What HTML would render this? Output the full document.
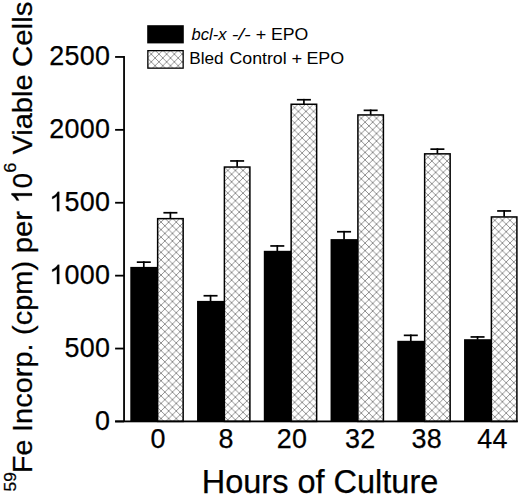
<!DOCTYPE html>
<html><head><meta charset="utf-8"><title>chart</title><style>
html,body{margin:0;padding:0;background:#fff;overflow:hidden;}
svg{display:block;}
text{font-family:"Liberation Sans",sans-serif;fill:#000;stroke:#000;stroke-width:0.25px;}
text.lg{stroke:none;}
</style></head><body>
<svg width="520" height="497" viewBox="0 0 520 497">
<defs>
<pattern id="xh0" patternUnits="userSpaceOnUse" width="7.6" height="7.556" x="157.25" y="218.30"><path d="M-3.8,-3.778 L11.399999999999999,11.334 M-3.8,11.334 L11.399999999999999,-3.778" stroke="#000" stroke-opacity="0.48" stroke-width="0.9" fill="none"/></pattern>
<pattern id="xh1" patternUnits="userSpaceOnUse" width="7.6" height="7.556" x="224.00" y="166.70"><path d="M-3.8,-3.778 L11.399999999999999,11.334 M-3.8,11.334 L11.399999999999999,-3.778" stroke="#000" stroke-opacity="0.48" stroke-width="0.9" fill="none"/></pattern>
<pattern id="xh2" patternUnits="userSpaceOnUse" width="7.6" height="7.556" x="290.75" y="103.90"><path d="M-3.8,-3.778 L11.399999999999999,11.334 M-3.8,11.334 L11.399999999999999,-3.778" stroke="#000" stroke-opacity="0.48" stroke-width="0.9" fill="none"/></pattern>
<pattern id="xh3" patternUnits="userSpaceOnUse" width="7.6" height="7.556" x="357.50" y="114.60"><path d="M-3.8,-3.778 L11.399999999999999,11.334 M-3.8,11.334 L11.399999999999999,-3.778" stroke="#000" stroke-opacity="0.48" stroke-width="0.9" fill="none"/></pattern>
<pattern id="xh4" patternUnits="userSpaceOnUse" width="7.6" height="7.556" x="424.25" y="153.50"><path d="M-3.8,-3.778 L11.399999999999999,11.334 M-3.8,11.334 L11.399999999999999,-3.778" stroke="#000" stroke-opacity="0.48" stroke-width="0.9" fill="none"/></pattern>
<pattern id="xh5" patternUnits="userSpaceOnUse" width="7.6" height="7.556" x="491.00" y="216.60"><path d="M-3.8,-3.778 L11.399999999999999,11.334 M-3.8,11.334 L11.399999999999999,-3.778" stroke="#000" stroke-opacity="0.48" stroke-width="0.9" fill="none"/></pattern>
<pattern id="xhl" patternUnits="userSpaceOnUse" width="7.7" height="7.7" x="147.40" y="50.30"><path d="M-3.85,-3.85 L11.55,11.55 M-3.85,11.55 L11.55,-3.85" stroke="#000" stroke-opacity="0.48" stroke-width="0.9" fill="none"/></pattern>
</defs>
<rect width="520" height="497" fill="#fff"/><rect x="130.30" y="266.90" width="27.40" height="154.50" fill="#000"/>
<rect x="136.80" y="261.30" width="14.00" height="1.70" fill="#000"/><rect x="142.95" y="261.30" width="1.70" height="6.10" fill="#000"/>
<rect x="157.65" y="218.65" width="25.50" height="202.75" fill="url(#xh0)" stroke="#000" stroke-width="1.5"/>
<rect x="163.40" y="211.90" width="14.00" height="1.70" fill="#000"/><rect x="169.55" y="211.90" width="1.70" height="6.50" fill="#000"/>
<rect x="197.05" y="300.90" width="27.40" height="120.50" fill="#000"/>
<rect x="203.55" y="294.90" width="14.00" height="1.70" fill="#000"/><rect x="209.70" y="294.90" width="1.70" height="6.50" fill="#000"/>
<rect x="224.40" y="167.05" width="25.50" height="254.35" fill="url(#xh1)" stroke="#000" stroke-width="1.5"/>
<rect x="230.15" y="160.10" width="14.00" height="1.70" fill="#000"/><rect x="236.30" y="160.10" width="1.70" height="6.70" fill="#000"/>
<rect x="263.80" y="250.80" width="27.40" height="170.60" fill="#000"/>
<rect x="270.30" y="245.10" width="14.00" height="1.70" fill="#000"/><rect x="276.45" y="245.10" width="1.70" height="6.20" fill="#000"/>
<rect x="291.15" y="104.25" width="25.50" height="317.15" fill="url(#xh2)" stroke="#000" stroke-width="1.5"/>
<rect x="296.90" y="98.90" width="14.00" height="1.70" fill="#000"/><rect x="303.05" y="98.90" width="1.70" height="5.10" fill="#000"/>
<rect x="330.55" y="239.10" width="27.40" height="182.30" fill="#000"/>
<rect x="337.05" y="230.90" width="14.00" height="1.70" fill="#000"/><rect x="343.20" y="230.90" width="1.70" height="8.70" fill="#000"/>
<rect x="357.90" y="114.95" width="25.50" height="306.45" fill="url(#xh3)" stroke="#000" stroke-width="1.5"/>
<rect x="363.65" y="109.50" width="14.00" height="1.70" fill="#000"/><rect x="369.80" y="109.50" width="1.70" height="5.20" fill="#000"/>
<rect x="397.30" y="340.80" width="27.40" height="80.60" fill="#000"/>
<rect x="403.80" y="334.50" width="14.00" height="1.70" fill="#000"/><rect x="409.95" y="334.50" width="1.70" height="6.80" fill="#000"/>
<rect x="424.65" y="153.85" width="25.50" height="267.55" fill="url(#xh4)" stroke="#000" stroke-width="1.5"/>
<rect x="430.40" y="148.30" width="14.00" height="1.70" fill="#000"/><rect x="436.55" y="148.30" width="1.70" height="5.30" fill="#000"/>
<rect x="464.05" y="339.20" width="27.40" height="82.20" fill="#000"/>
<rect x="470.55" y="336.10" width="14.00" height="1.70" fill="#000"/><rect x="476.70" y="336.10" width="1.70" height="3.60" fill="#000"/>
<rect x="491.40" y="216.95" width="25.50" height="204.45" fill="url(#xh5)" stroke="#000" stroke-width="1.5"/>
<rect x="497.15" y="210.10" width="14.00" height="1.70" fill="#000"/><rect x="503.30" y="210.10" width="1.70" height="6.60" fill="#000"/>
<rect x="115.1" y="420.50" width="402.70" height="1.8" fill="#000"/>
<rect x="123.15" y="56.05" width="1.8" height="365.35" fill="#000"/>
<rect x="115.1" y="420.55" width="8.95" height="1.8" fill="#000"/>
<rect x="115.1" y="347.65" width="8.95" height="1.8" fill="#000"/>
<rect x="115.1" y="274.75" width="8.95" height="1.8" fill="#000"/>
<rect x="115.1" y="201.85" width="8.95" height="1.8" fill="#000"/>
<rect x="115.1" y="128.95" width="8.95" height="1.8" fill="#000"/>
<rect x="115.1" y="56.05" width="8.95" height="1.8" fill="#000"/>
<text x="95.04" y="429.85" font-size="26.9">0</text>
<text x="64.52" y="356.95" font-size="26.9">5</text><text x="79.78" y="356.95" font-size="26.9">0</text><text x="95.04" y="356.95" font-size="26.9">0</text>
<path transform="translate(49.26,284.05) scale(0.01313,-0.01313)" d="M763,0 L583,0 L583,1147 Q518,1085 412,1023 Q307,961 223,930 L223,1104 Q374,1175 487,1276 Q600,1377 647,1472 L763,1472 Z" fill="#000" stroke="#000" stroke-width="19.0"/><text x="64.52" y="284.05" font-size="26.9">0</text><text x="79.78" y="284.05" font-size="26.9">0</text><text x="95.04" y="284.05" font-size="26.9">0</text>
<path transform="translate(49.26,211.15) scale(0.01313,-0.01313)" d="M763,0 L583,0 L583,1147 Q518,1085 412,1023 Q307,961 223,930 L223,1104 Q374,1175 487,1276 Q600,1377 647,1472 L763,1472 Z" fill="#000" stroke="#000" stroke-width="19.0"/><text x="64.52" y="211.15" font-size="26.9">5</text><text x="79.78" y="211.15" font-size="26.9">0</text><text x="95.04" y="211.15" font-size="26.9">0</text>
<text x="49.26" y="138.25" font-size="26.9">2</text><text x="64.52" y="138.25" font-size="26.9">0</text><text x="79.78" y="138.25" font-size="26.9">0</text><text x="95.04" y="138.25" font-size="26.9">0</text>
<text x="49.26" y="65.35" font-size="26.9">2</text><text x="64.52" y="65.35" font-size="26.9">5</text><text x="79.78" y="65.35" font-size="26.9">0</text><text x="95.04" y="65.35" font-size="26.9">0</text>
<text x="150.62" y="448.30" font-size="26.9">0</text>
<text x="218.47" y="448.30" font-size="26.9">8</text>
<text x="276.79" y="448.30" font-size="26.9">2</text><text x="292.05" y="448.30" font-size="26.9">0</text>
<text x="344.89" y="448.30" font-size="26.9">3</text><text x="360.15" y="448.30" font-size="26.9">2</text>
<text x="411.49" y="448.30" font-size="26.9">3</text><text x="426.75" y="448.30" font-size="26.9">8</text>
<text x="477.19" y="448.30" font-size="26.9">4</text><text x="492.45" y="448.30" font-size="26.9">4</text>
<rect x="147.2" y="25.2" width="36.6" height="18.2" fill="#000"/>
<rect x="147.85" y="50.65" width="35.3" height="17.5" fill="url(#xhl)" stroke="#000" stroke-width="1.3"/>
<text class="lg" transform="translate(191.50,40.3) scale(0.986,1)" font-size="16.8" font-style="italic">bcl-x</text>
<text class="lg" transform="translate(231.80,40.3) scale(1.196,1)" font-size="16.8" font-style="italic">-/-</text>
<text class="lg" transform="translate(255.68,40.3) scale(1.069,1)" font-size="16.8">+</text>
<text class="lg" transform="translate(270.95,40.3) scale(1.053,1)" font-size="16.8">EPO</text>
<text class="lg" transform="translate(189.28,64.4) scale(1.022,1)" font-size="16.8">Bled</text>
<text class="lg" transform="translate(229.44,64.4) scale(1.058,1)" font-size="16.8">Control</text>
<text class="lg" transform="translate(291.41,64.4) scale(1.094,1)" font-size="16.8">+</text>
<text class="lg" transform="translate(306.43,64.4) scale(1.066,1)" font-size="16.8">EPO</text>
<text x="201.7" y="493.4" font-size="32.5">Hours of Culture</text>
<text transform="translate(16.0,0) rotate(-90) translate(-491.51,0) scale(1.012,1)" font-size="17.2">59</text>
<text transform="translate(32.0,0) rotate(-90) translate(-473.00,0) scale(1.000,1)" font-size="28.5">Fe</text>
<text transform="translate(32.0,0) rotate(-90) translate(-431.95,0) scale(1.016,1)" font-size="28.5">Incorp.</text>
<text transform="translate(32.0,0) rotate(-90) translate(-334.93,0) scale(1.016,1)" font-size="28.5">(cpm)</text>
<text transform="translate(32.0,0) rotate(-90) translate(-253.36,0) scale(1.031,1)" font-size="28.5">per</text>
<g transform="translate(32.0,0) rotate(-90) translate(-203.58,0) scale(0.961,1)"><path transform="translate(0.00,0.00) scale(0.01392,-0.01392)" d="M763,0 L583,0 L583,1147 Q518,1085 412,1023 Q307,961 223,930 L223,1104 Q374,1175 487,1276 Q600,1377 647,1472 L763,1472 Z" fill="#000" stroke="#000" stroke-width="18.0"/><text x="15.85" y="0" font-size="28.5">0</text></g>
<text transform="translate(16.0,0) rotate(-90) translate(-172.76,0) scale(1.062,1)" font-size="17.2">6</text>
<text transform="translate(32.0,0) rotate(-90) translate(-154.60,0) scale(1.019,1)" font-size="28.5">Viable</text>
<text transform="translate(32.0,0) rotate(-90) translate(-67.03,0) scale(1.034,1)" font-size="28.5">Cells</text>
</svg></body></html>
